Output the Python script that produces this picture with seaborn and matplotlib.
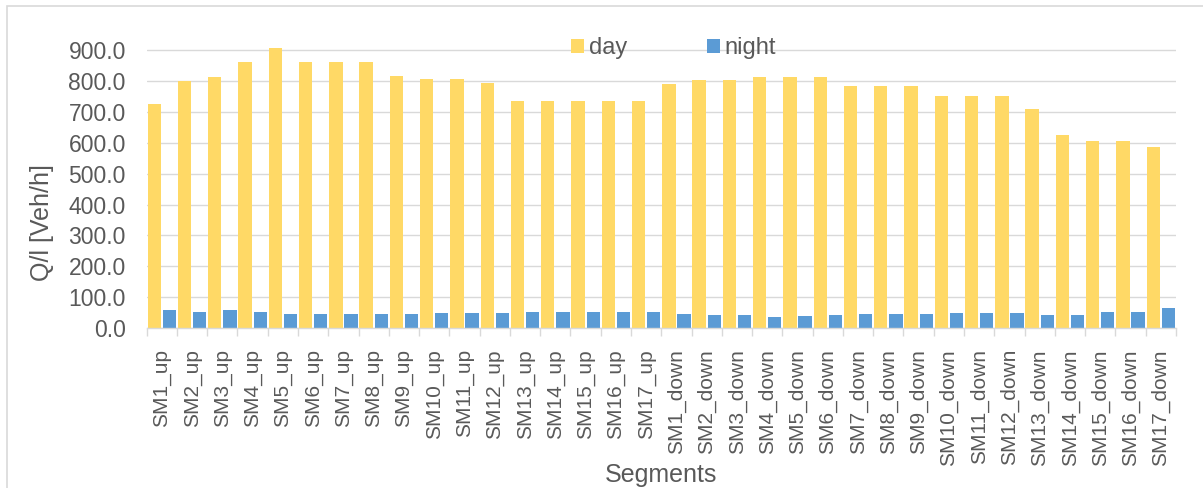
import numpy as np
import pandas as pd
import matplotlib
matplotlib.use("Agg")
import matplotlib.pyplot as plt
from matplotlib.patches import Rectangle
from matplotlib.ticker import FixedLocator, FuncFormatter, MultipleLocator
import seaborn as sns

# Segment names (upstream then downstream)
segments = [f"SM{i}_up" for i in range(1, 18)] + [f"SM{i}_down" for i in range(1, 18)]

# Flow per lane [Veh/h]
day = [725, 798, 814, 860, 905, 860, 860, 860, 815, 805, 805, 793, 736, 736, 736, 736, 736,
       789, 802, 802, 814, 814, 814, 782, 782, 782, 751, 751, 751, 708, 624, 606, 606, 587]
night = [59, 54, 59, 52, 46, 46, 46, 46, 46, 48, 48, 50, 54, 54, 54, 54, 54,
         45, 42, 42, 38, 41, 44, 46, 46, 46, 48, 48, 48, 44, 43, 54, 54, 65]

periods = ["day", "night"]
colors = {"day": "#FFD966", "night": "#5B9BD5"}
text_color = "#595959"
grid_color = "#D9D9D9"

df = pd.DataFrame({
    "Segments": segments * 2,
    "period": ["day"] * len(segments) + ["night"] * len(segments),
    "Q": day + night,
})

sns.set_theme(style="white")
plt.rcParams["font.family"] = ["Liberation Sans", "DejaVu Sans"]

fig = plt.figure(figsize=(12.03, 4.88), dpi=100)
ax = fig.add_axes([0.1219, 0.3273, 0.8556, 0.5799])

sns.barplot(data=df, x="Segments", y="Q", hue="period", hue_order=periods,
            palette=colors, width=1.0, gap=0.12, linewidth=0, saturation=1,
            ax=ax)

ax.set_ylim(0, 915)
ax.yaxis.set_major_locator(MultipleLocator(100))
ax.yaxis.set_major_formatter(FuncFormatter(lambda v, _: f"{v:.1f}"))
ax.set_axisbelow(True)
ax.grid(axis="y", color=grid_color, linewidth=1.0)
ax.grid(axis="x", visible=False)

for side in ("top", "right", "left"):
    ax.spines[side].set_visible(False)
ax.spines["bottom"].set_color(grid_color)
ax.spines["bottom"].set_linewidth(1.0)

# Category labels centred, tick marks between categories
n = len(segments)
ax.xaxis.set_minor_locator(FixedLocator(np.arange(n + 1) - 0.5))
ax.tick_params(axis="x", which="major", length=0, pad=15, labelsize=15,
               labelcolor=text_color, rotation=90)
ax.tick_params(axis="x", which="minor", length=6, width=1.0, color=grid_color,
               bottom=True)
ax.tick_params(axis="y", length=0, pad=15, labelsize=16.5, labelcolor=text_color)
for lbl in ax.get_xticklabels():
    lbl.set_va("top")

ax.set_xlabel("Segments", fontsize=18, color=text_color)
ax.xaxis.set_label_coords(0.5, -0.518)
ax.xaxis.label.set_va("center")
ax.set_ylabel("Q/l [Veh/h]", fontsize=18, color=text_color)
ax.yaxis.set_label_coords(-0.1017, 0.372)
ax.yaxis.label.set_va("center")

leg = ax.legend(loc="center", bbox_to_anchor=(0.560, 0.9016),
                bbox_transform=fig.transFigure, ncol=2, frameon=False,
                fontsize=17, handlelength=0.55, handleheight=0.55,
                handletextpad=0.2, columnspacing=3.4)
for t in leg.get_texts():
    t.set_color(text_color)

# Chart area border
fig.patches.append(Rectangle((6.5 / 1203, -0.02), 1.05, (488 - 6.5) / 488 + 0.02,
                             transform=fig.transFigure, fill=False,
                             edgecolor=grid_color, linewidth=1.2))

fig.savefig("out.png", dpi=100, facecolor="white")
